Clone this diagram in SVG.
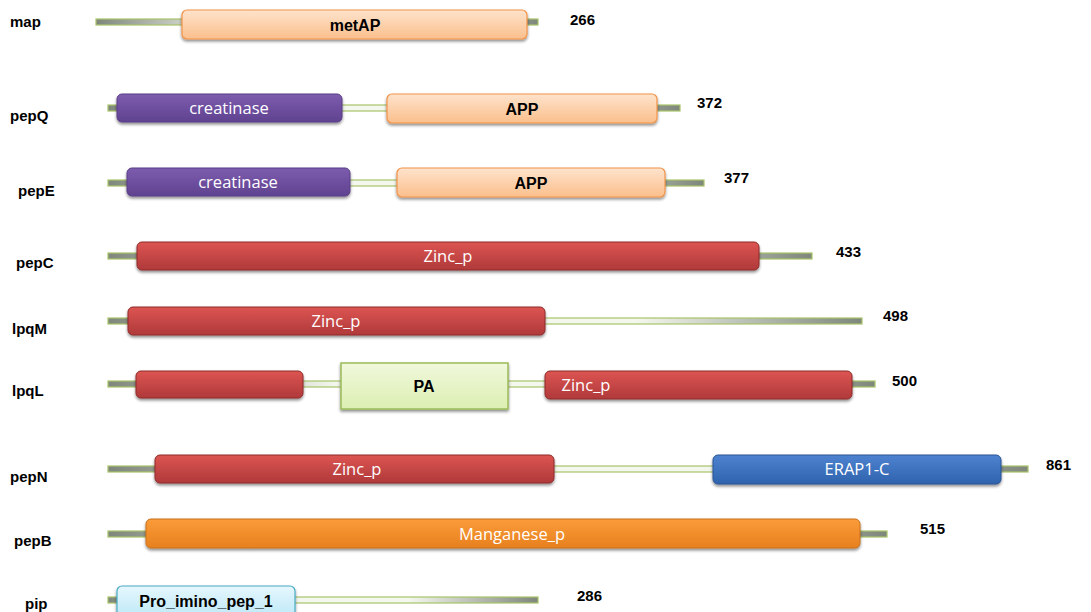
<svg xmlns="http://www.w3.org/2000/svg" width="1091" height="612" viewBox="0 0 1091 612">
<defs>
<linearGradient id="bb" x1="0" y1="0" x2="1" y2="0">
<stop offset="0" stop-color="#7f877c"/><stop offset="0.3" stop-color="#f4f7ee"/><stop offset="0.7" stop-color="#f4f7ee"/><stop offset="1" stop-color="#7f877c"/>
</linearGradient>
<linearGradient id="gPurple" x1="0" y1="0" x2="0" y2="1"><stop offset="0" stop-color="#7d5cae"/><stop offset="1" stop-color="#5f4290"/></linearGradient>
<linearGradient id="gPeach" x1="0" y1="0" x2="0" y2="1"><stop offset="0" stop-color="#fee3cc"/><stop offset="1" stop-color="#fbbf8c"/></linearGradient>
<linearGradient id="gRed" x1="0" y1="0" x2="0" y2="1"><stop offset="0" stop-color="#dc5552"/><stop offset="1" stop-color="#b0393a"/></linearGradient>
<linearGradient id="gBlue" x1="0" y1="0" x2="0" y2="1"><stop offset="0" stop-color="#4d82d0"/><stop offset="1" stop-color="#2f63ad"/></linearGradient>
<linearGradient id="gOrange" x1="0" y1="0" x2="0" y2="1"><stop offset="0" stop-color="#fb9c3a"/><stop offset="1" stop-color="#e7801e"/></linearGradient>
<linearGradient id="gGreen" x1="0" y1="0" x2="0" y2="1"><stop offset="0" stop-color="#f0f8dc"/><stop offset="1" stop-color="#dcefb2"/></linearGradient>
<linearGradient id="gCyan" x1="0" y1="0" x2="0" y2="1"><stop offset="0" stop-color="#e6f7fd"/><stop offset="1" stop-color="#bfe9f8"/></linearGradient>
<filter id="sh" x="-5%" y="-30%" width="110%" height="170%">
<feGaussianBlur in="SourceAlpha" stdDeviation="1.5"/><feOffset dx="0" dy="2" result="b"/>
<feComponentTransfer><feFuncA type="linear" slope="0.45"/></feComponentTransfer>
<feMerge><feMergeNode/><feMergeNode in="SourceGraphic"/></feMerge>
</filter>
</defs>
<style>
.lbl{font-family:"Liberation Sans",Arial,sans-serif;font-weight:bold;font-size:15px;fill:#000}
.num{font-family:"Liberation Sans",Arial,sans-serif;font-weight:bold;font-size:15px;fill:#000}
.bb{fill:url(#bb);stroke:#a9c46a;stroke-width:1.2}
.dom{filter:url(#sh)}
.wt{font-family:"Open Sans","Liberation Sans",sans-serif;font-size:16.5px;fill:#fff;text-anchor:middle}
.bt{font-family:"Liberation Sans",Arial,sans-serif;font-weight:bold;font-size:16px;fill:#000;text-anchor:middle}
.purple{fill:url(#gPurple);stroke:#5a3f86;stroke-width:1}
.peach{fill:url(#gPeach);stroke:#f0934a;stroke-width:1.2}
.red{fill:url(#gRed);stroke:#8e2b2a;stroke-width:1}
.blue{fill:url(#gBlue);stroke:#2a5595;stroke-width:1}
.orange{fill:url(#gOrange);stroke:#c8701c;stroke-width:1}
.green{fill:url(#gGreen);stroke:#9bbb59;stroke-width:1.5}
.cyan{fill:url(#gCyan);stroke:#4bacc6;stroke-width:1.2}
</style>
<g id="connectors">
<rect class="bb" x="96" y="19" width="442" height="6"/>
<rect class="bb" x="108" y="105" width="572" height="6"/>
<rect class="bb" x="108" y="180" width="596" height="6"/>
<rect class="bb" x="108" y="253" width="704" height="6"/>
<rect class="bb" x="108" y="318" width="754" height="6"/>
<rect class="bb" x="108" y="381" width="767" height="6"/>
<rect class="bb" x="108" y="466" width="920" height="6"/>
<rect class="bb" x="108" y="531" width="779" height="6"/>
<rect class="bb" x="108" y="597" width="430" height="6"/>
</g>
<g id="map">
<text class="lbl" x="10" y="27">map</text>
<rect class="dom peach" x="182" y="10" width="345" height="29" rx="5"/>
<text class="bt" x="355" y="31">metAP</text>
<text class="num" x="570" y="25">266</text>
</g>
<g id="pepQ">
<text class="lbl" x="10" y="121">pepQ</text>
<rect class="dom purple" x="117" y="94" width="225" height="28" rx="5"/>
<text class="wt" x="229" y="114">creatinase</text>
<rect class="dom peach" x="387" y="94" width="270" height="29" rx="5"/>
<text class="bt" x="522" y="115">APP</text>
<text class="num" x="697" y="108">372</text>
</g>
<g id="pepE">
<text class="lbl" x="18" y="196">pepE</text>
<rect class="dom purple" x="127" y="168" width="223" height="28" rx="5"/>
<text class="wt" x="238" y="188">creatinase</text>
<rect class="dom peach" x="397" y="168" width="268" height="29" rx="5"/>
<text class="bt" x="531" y="189">APP</text>
<text class="num" x="724" y="183">377</text>
</g>
<g id="pepC">
<text class="lbl" x="16" y="268">pepC</text>
<rect class="dom red" x="137" y="242" width="622" height="28" rx="5"/>
<text class="wt" x="448" y="262">Zinc_p</text>
<text class="num" x="836" y="257">433</text>
</g>
<g id="lpqM">
<text class="lbl" x="12" y="334">lpqM</text>
<rect class="dom red" x="128" y="307" width="417" height="28" rx="5"/>
<text class="wt" x="336" y="327">Zinc_p</text>
<text class="num" x="883" y="321">498</text>
</g>
<g id="lpqL">
<text class="lbl" x="12" y="396">lpqL</text>
<rect class="dom red" x="136" y="371" width="167" height="27" rx="5"/>
<rect class="dom green" x="341" y="363" width="167" height="46"/>
<text class="bt" x="424" y="392">PA</text>
<rect class="dom red" x="545" y="371" width="307" height="28" rx="5"/>
<text class="wt" x="586" y="391">Zinc_p</text>
<text class="num" x="892" y="386">500</text>
</g>
<g id="pepN">
<text class="lbl" x="10" y="482">pepN</text>
<rect class="dom red" x="155" y="455" width="399" height="28" rx="5"/>
<text class="wt" x="357" y="475">Zinc_p</text>
<rect class="dom blue" x="713" y="455" width="288" height="29" rx="5"/>
<text class="wt" x="857" y="475">ERAP1-C</text>
<text class="num" x="1046" y="470">861</text>
</g>
<g id="pepB">
<text class="lbl" x="14" y="546">pepB</text>
<rect class="dom orange" x="146" y="519" width="714" height="29" rx="5"/>
<text class="wt" x="512" y="540">Manganese_p</text>
<text class="num" x="920" y="534">515</text>
</g>
<g id="pip">
<text class="lbl" x="25" y="609">pip</text>
<rect class="dom cyan" x="117" y="586" width="178" height="30" rx="5"/>
<text class="bt" x="206" y="607">Pro_imino_pep_1</text>
<text class="num" x="577" y="601">286</text>
</g>
</svg>
